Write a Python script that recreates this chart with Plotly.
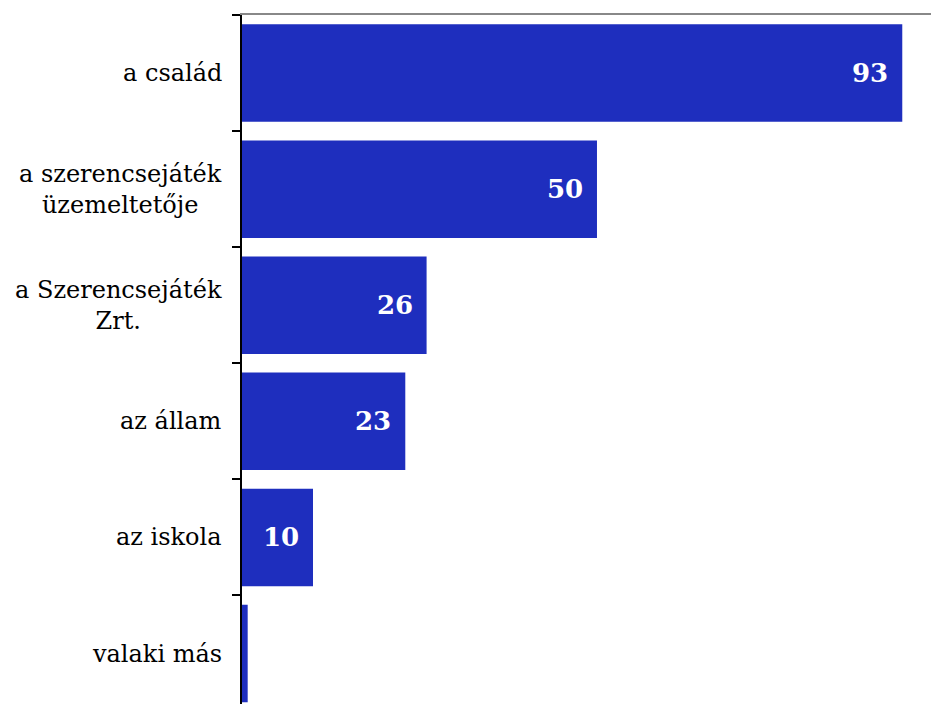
import plotly.graph_objects as go

categories = ['a család', 'a szerencsejáték<br>üzemeltetője', 'a Szerencsejáték<br>Zrt.',
              'az állam', 'az iskola', 'valaki más']
values = [93, 50, 26, 23, 10, 0.8]
labels = ['93', '50', '26', '23', '10', '']

bar_color = '#1e2ebe'

fig = go.Figure()

fig.add_trace(go.Bar(
    x=values,
    y=categories,
    orientation='h',
    marker=dict(color=bar_color, line=dict(width=0)),
    hoverinfo='x+y',
))

# értékcímkék a sávok végén, belül
for cat, val, lab in zip(categories, values, labels):
    if lab:
        fig.add_annotation(
            x=val, y=cat, text=f'<b>{lab}</b>',
            xanchor='right', yanchor='middle', xshift=-12,
            showarrow=False,
            font=dict(family='DejaVu Serif', size=26, color='white'),
        )
    # kategóriacímkék középre igazítva
    fig.add_annotation(
        x=0, xref='paper', y=cat, text=cat,
        xanchor='right', yanchor='middle', align='center', xshift=-18,
        showarrow=False,
        font=dict(family='DejaVu Serif', size=24, color='black'),
    )

# a lap 8 px-es margója miatt eltolt ábra
fig.update_layout(
    width=939, height=696,
    margin=dict(l=234, r=0, t=7, b=0),
    plot_bgcolor='white', paper_bgcolor='white',
    bargap=0.16,
    showlegend=False,
    font=dict(family='DejaVu Serif', size=24, color='#000000'),
)

fig.update_xaxes(
    side='top', range=[0, 99.3],
    showline=True, linecolor='#888888', linewidth=2,
    showgrid=False, zeroline=False, showticklabels=False, ticks='',
)

fig.update_yaxes(
    type='category', categoryorder='array', categoryarray=categories,
    range=[5.435, -0.5],
    showline=True, linecolor='black', linewidth=2,
    ticks='outside', ticklen=8, tickwidth=2, tickcolor='black',
    tickson='boundaries', showticklabels=False,
    showgrid=False, zeroline=False,
)

fig.write_html('out.html')
